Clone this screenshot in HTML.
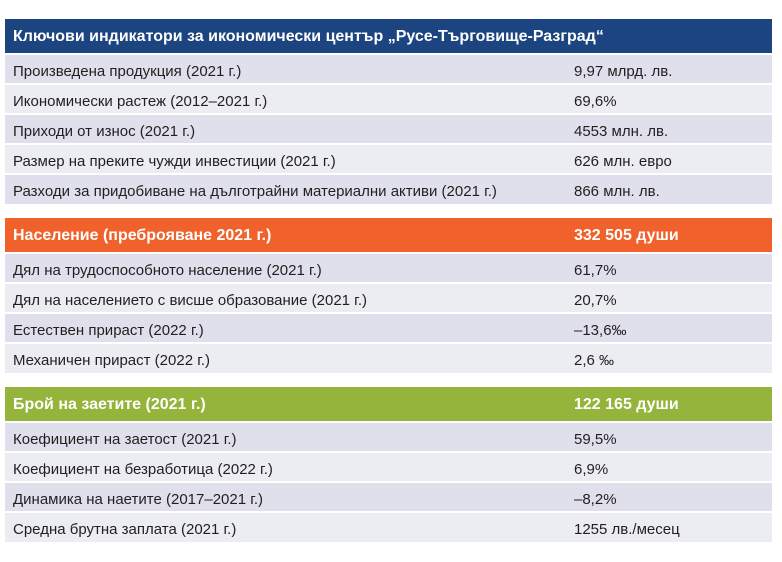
<!DOCTYPE html>
<html><head><meta charset="utf-8"><style>
body{margin:0;width:782px;height:562px;background:#fff;position:relative;font-family:"Liberation Sans","DejaVu Sans",sans-serif;overflow:hidden}
.r{position:absolute;left:5px;width:767px;color:#231f20;font-size:15px}
.r span{position:absolute;top:0}
.r .a{left:8px}.r .b{left:569px}
.r:not(.h){line-height:33px!important}
.h{color:#fff;font-weight:bold;font-size:16px;line-height:36px!important}
</style></head><body>
<div class="r h" style="top:19px;height:34px;background:#1c4480"><span class="a">Ключови индикатори за икономически център „Русе-Търговище-Разград“</span></div>
<div class="r" style="top:55px;height:28px;background:#e0e0ec"><span class="a">Произведена продукция (2021 г.)</span><span class="b">9,97 млрд. лв.</span></div>
<div class="r" style="top:85px;height:28px;background:#ececf3"><span class="a">Икономически растеж (2012–2021 г.)</span><span class="b">69,6%</span></div>
<div class="r" style="top:115px;height:28px;background:#e0e0ec"><span class="a">Приходи от износ (2021 г.)</span><span class="b">4553 млн. лв.</span></div>
<div class="r" style="top:145px;height:28px;background:#ececf3"><span class="a">Размер на преките чужди инвестиции (2021 г.)</span><span class="b">626 млн. евро</span></div>
<div class="r" style="top:175px;height:29px;background:#e0e0ec"><span class="a">Разходи за придобиване на дълготрайни материални активи (2021 г.)</span><span class="b">866 млн. лв.</span></div>

<div class="r h" style="top:218px;height:34px;background:#f0612c"><span class="a">Население (преброяване 2021 г.)</span><span class="b">332 505 души</span></div>
<div class="r" style="top:254px;height:28px;background:#e0e0ec"><span class="a">Дял на трудоспособното население (2021 г.)</span><span class="b">61,7%</span></div>
<div class="r" style="top:284px;height:28px;background:#ececf3"><span class="a">Дял на населението с висше образование (2021 г.)</span><span class="b">20,7%</span></div>
<div class="r" style="top:314px;height:28px;background:#e0e0ec"><span class="a">Естествен прираст (2022 г.)</span><span class="b">–13,6‰</span></div>
<div class="r" style="top:344px;height:29px;background:#ececf3"><span class="a">Механичен прираст (2022 г.)</span><span class="b">2,6 ‰</span></div>

<div class="r h" style="top:387px;height:34px;background:#94b43c"><span class="a">Брой на заетите (2021 г.)</span><span class="b">122 165 души</span></div>
<div class="r" style="top:423px;height:28px;background:#e0e0ec"><span class="a">Коефициент на заетост (2021 г.)</span><span class="b">59,5%</span></div>
<div class="r" style="top:453px;height:28px;background:#ececf3"><span class="a">Коефициент на безработица (2022 г.)</span><span class="b">6,9%</span></div>
<div class="r" style="top:483px;height:28px;background:#e0e0ec"><span class="a">Динамика на наетите (2017–2021 г.)</span><span class="b">–8,2%</span></div>
<div class="r" style="top:513px;height:29px;background:#ececf3"><span class="a">Средна брутна заплата (2021 г.)</span><span class="b">1255 лв./месец</span></div>
</body></html>
